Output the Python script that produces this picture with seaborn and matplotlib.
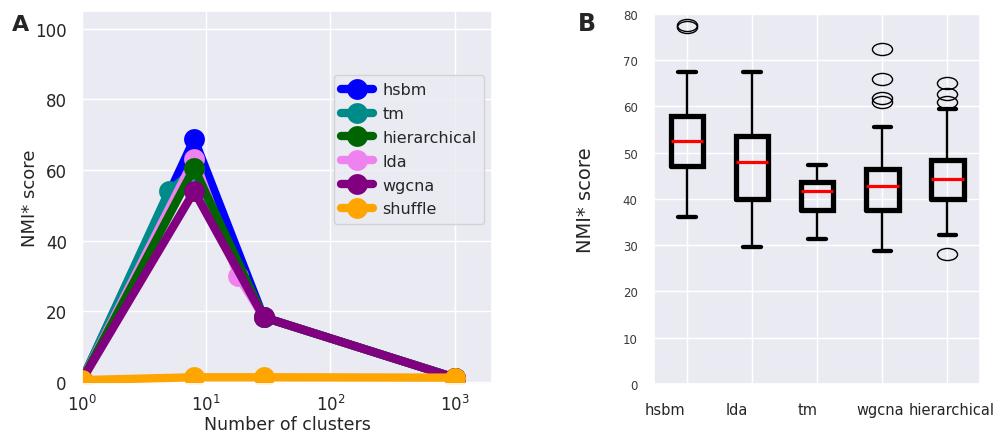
import matplotlib
matplotlib.use("Agg")
import matplotlib.pyplot as plt
from matplotlib.path import Path
from matplotlib.transforms import blended_transform_factory, Affine2D
import pandas as pd
import seaborn as sns

# ---------------- Panel A: NMI* score against the number of clusters ----------------
hsbm_clusters = [1, 8, 29, 1000]
hsbm_nmi = [0.5, 68.8, 18.3, 1.2]

tm_clusters = [1, 5, 8, 29, 1000]
tm_nmi = [0.5, 54.0, 60.0, 18.3, 1.2]

lda_clusters = [1, 8, 18, 29, 1000]
lda_nmi = [0.5, 63.2, 30.0, 18.3, 1.2]

hierarchical_clusters = [1, 8, 29, 1000]
hierarchical_nmi = [0.5, 60.6, 18.3, 1.2]

wgcna_clusters = [1, 8, 29, 1000]
wgcna_nmi = [0.5, 54.0, 18.3, 1.2]

shuffle_clusters = [1, 8, 29, 1000]
shuffle_nmi = [0.5, 1.3, 1.3, 1.2]

draw_order = ["hsbm", "tm", "lda", "hierarchical", "wgcna", "shuffle"]
legend_order = ["hsbm", "tm", "hierarchical", "lda", "wgcna", "shuffle"]
method_colors = {
    "hsbm": "#0000ff",
    "tm": "#008b8b",
    "hierarchical": "#006400",
    "lda": "#ee82ee",
    "wgcna": "#800080",
    "shuffle": "#ffa500",
}
series = {
    "hsbm": (hsbm_clusters, hsbm_nmi),
    "tm": (tm_clusters, tm_nmi),
    "lda": (lda_clusters, lda_nmi),
    "hierarchical": (hierarchical_clusters, hierarchical_nmi),
    "wgcna": (wgcna_clusters, wgcna_nmi),
    "shuffle": (shuffle_clusters, shuffle_nmi),
}
levels = pd.concat(
    [pd.DataFrame({"method": m, "clusters": c, "nmi": v}) for m, (c, v) in series.items()],
    ignore_index=True,
)

# ---------------- Panel B: NMI* score distributions per method ----------------
box_methods = ["hsbm", "lda", "tm", "wgcna", "hierarchical"]
box_whislo = [36.0, 29.7, 31.4, 28.8, 32.2]
box_q1 = [47.1, 40.0, 37.5, 37.7, 40.0]
box_median = [52.6, 47.9, 41.8, 42.7, 44.3]
box_q3 = [57.9, 53.5, 43.6, 46.5, 48.4]
box_whishi = [67.5, 67.5, 47.4, 55.6, 59.5]
box_fliers = [
    [77.2, 77.6],
    [],
    [],
    [61.0, 61.8, 65.9, 72.3],
    [61.0, 62.7, 65.1, 28.1],
]

sns.set_theme(style="darkgrid")
plt.rcParams["font.family"] = ["DejaVu Sans"]

fig = plt.figure(figsize=(9.98, 4.35), dpi=100)
ax_a = fig.add_axes([0.0822, 0.115, 0.4108, 0.857])
ax_b = fig.add_axes([0.6556, 0.115, 0.3264, 0.851])

# Panel A lines
for m in draw_order:
    sns.lineplot(
        data=levels[levels["method"] == m], x="clusters", y="nmi",
        color=method_colors[m], linewidth=6, marker="o", markersize=15,
        markeredgewidth=0, label=m, ax=ax_a, errorbar=None,
    )
ax_a.set_xscale("log")
ax_a.set_xlim(1, 2000)
ax_a.set_ylim(-0.6, 105)
ax_a.set_yticks([0, 20, 40, 60, 80, 100])
ax_a.minorticks_off()
ax_a.tick_params(axis="both", labelsize=12, colors="#262626")
ax_a.tick_params(axis="x", pad=1)
ax_a.tick_params(axis="y", pad=5)
ax_a.set_xlabel("Number of clusters", fontsize=12.5, color="#262626")
ax_a.set_ylabel("NMI* score", fontsize=13, color="#262626")
ax_a.xaxis.set_label_coords(0.5, -0.084)
ax_a.yaxis.set_label_coords(-0.105, 0.5)

handles, labels = ax_a.get_legend_handles_labels()
lookup = dict(zip(labels, handles))
ax_a.legend(
    [lookup[m] for m in legend_order], legend_order,
    loc="upper right", bbox_to_anchor=(0.98, 0.828), borderaxespad=0,
    fontsize=11.5, handlelength=2.0, labelspacing=0.55, borderpad=0.45,
    handletextpad=0.6,
)

# Panel B boxes
stats = [
    dict(whislo=lo, q1=a, med=md, q3=b, whishi=hi, fliers=fl, label=name)
    for name, lo, a, md, b, hi, fl in zip(
        box_methods, box_whislo, box_q1, box_median, box_q3, box_whishi, box_fliers
    )
]
ellipse = Path.unit_circle().transformed(Affine2D().scale(1.0, 0.6))
positions = list(range(1, len(box_methods) + 1))
ax_b.bxp(
    stats, positions=positions, widths=0.5, capwidths=0.27, manage_ticks=False,
    boxprops=dict(color="black", linewidth=3.8, solid_joinstyle="miter"),
    whiskerprops=dict(color="black", linewidth=1.7),
    capprops=dict(color="black", linewidth=3.1, solid_capstyle="round"),
    medianprops=dict(color="red", linewidth=2.3),
    flierprops=dict(marker=ellipse, markersize=14.5, markerfacecolor="none",
                    markeredgecolor="black", markeredgewidth=1.0),
)
ax_b.set_xlim(0.5, len(box_methods) + 0.5)
ax_b.set_ylim(0, 80)
ax_b.set_xticks(positions)
ax_b.set_xticklabels([])
ax_b.set_yticks(range(0, 81, 10))
ax_b.tick_params(axis="y", labelsize=8.5, colors="#3a3a3a", pad=6)
ax_b.set_ylabel("NMI* score", fontsize=14, color="#262626")
ax_b.yaxis.set_label_coords(-0.182, 0.5)

label_shift = [-0.336, -0.23, -0.14, -0.03, 0.07]
trans = blended_transform_factory(ax_b.transData, ax_b.transAxes)
for pos, shift, name in zip(positions, label_shift, box_methods):
    ax_b.text(pos + shift, -0.05, name, transform=trans, ha="center", va="top",
              fontsize=10.5, color="#262626")

fig.text(0.012, 0.966, "A", fontsize=16, fontweight="bold", va="top", ha="left")
fig.text(0.579, 0.972, "B", fontsize=17, fontweight="bold", va="top", ha="left")

fig.savefig("out.png", dpi=100)
